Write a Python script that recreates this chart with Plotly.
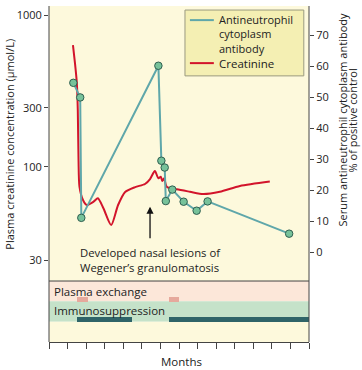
import numpy as np
import plotly.graph_objects as go

# ---------------- data ----------------
# Creatinine (µmol/L) vs months
creat_months = [1.29, 1.40, 1.50, 1.55, 1.59, 1.64, 1.83, 2.04, 2.40, 2.63, 2.93, 3.35, 3.72,
                4.10, 4.64, 5.17, 5.44, 5.70, 5.89, 6.02, 6.10, 6.20, 6.34, 6.88, 7.59, 8.31,
                9.20, 10.28, 11.89]
creat_values = [677, 534, 412, 287, 113, 77.3, 65.1, 61.0, 63.7, 66.5, 58.5, 47.1, 61.0,
                72.2, 76.9, 80.0, 85.3, 94.6, 86.1, 87.9, 83.2, 86.1, 77.3, 74.7, 72.4, 70.3,
                72.4, 78.0, 82.6]

# Antineutrophil cytoplasm antibody (% of positive control)
anca_months = [1.31, 1.68, 1.74, 5.89, 6.05, 6.23, 6.29, 6.64, 7.25, 7.95, 8.54, 12.93]
anca_values = [54.6, 49.9, 11.1, 60.1, 29.5, 27.3, 16.5, 20.2, 16.3, 13.4, 16.4, 6.0]

# Treatment periods (months)
plasma_start = [1.5, 6.45]
plasma_end = [2.1, 7.0]
immuno_start = [1.5, 6.45]
immuno_end = [4.48, 14.0]

creat_ticks = [30, 100, 300, 1000]
creat_ticktext = ["30", "100", "300", "1000"]
anca_ticks = [0, 10, 20, 30, 40, 50, 60, 70]
month_ticks = list(range(0, 15))

# ---------------- axis calibration (non-uniform printed creatinine scale) ----------------
CREAT_TICK_POS = [0, 93.3, 152.3, 245]


def creat_scale(v):
    return np.interp(np.log10(np.asarray(v, dtype=float)), np.log10(creat_ticks), CREAT_TICK_POS)


# ---------------- colours ----------------
BG = "#fdf9dc"
LEGEND_BG = "#f4efb3"
PINK_BAND = "#fce7d9"
PINK_BAR = "#e6a99c"
GREEN_BAND = "#c5e2c9"
DARK_BAR = "#2f6468"
TEAL = "#5fa7aa"
MARKER = "#77c29a"
RED = "#d2142b"
AX = "#444444"
TXT = "#222222"
FONT = "Open Sans"

fig = go.Figure()

fig.add_trace(go.Scatter(
    x=creat_months, y=creat_scale(creat_values), mode="lines",
    line=dict(color=RED, width=2, shape="spline", smoothing=0.7),
    xaxis="x", yaxis="y", showlegend=False, hoverinfo="skip"))

fig.add_trace(go.Scatter(
    x=anca_months, y=anca_values, mode="lines+markers",
    line=dict(color=TEAL, width=2),
    marker=dict(size=7.5, color=MARKER, line=dict(color="#2f5f50", width=1)),
    xaxis="x", yaxis="y2", showlegend=False, hoverinfo="skip"))

# treatment bars (lower panel, y3 units: 0-1 yellow, 1-2 green, 2-3 pink)
fig.add_trace(go.Bar(
    orientation="h", base=plasma_start,
    x=[e - s for s, e in zip(plasma_start, plasma_end)],
    y=[2.09] * len(plasma_start), width=0.22,
    marker=dict(color=PINK_BAR, line=dict(width=0)),
    xaxis="x", yaxis="y3", showlegend=False, hoverinfo="skip"))
fig.add_trace(go.Bar(
    orientation="h", base=immuno_start,
    x=[e - s for s, e in zip(immuno_start, immuno_end)],
    y=[1.115] * len(immuno_start), width=0.23,
    marker=dict(color=DARK_BAR, line=dict(width=0)),
    xaxis="x", yaxis="y3", showlegend=False, hoverinfo="skip"))

SPLIT = 0.1815  # paper fraction separating upper plot from treatment panel

shapes = [
    # background bands
    dict(type="rect", xref="paper", yref="paper", x0=0, x1=1, y0=SPLIT, y1=1,
         fillcolor=BG, line=dict(width=0), layer="below"),
    dict(type="rect", xref="paper", yref="y3", x0=0, x1=1, y0=2, y1=3,
         fillcolor=PINK_BAND, line=dict(width=0), layer="below"),
    dict(type="rect", xref="paper", yref="y3", x0=0, x1=1, y0=1, y1=2,
         fillcolor=GREEN_BAND, line=dict(width=0), layer="below"),
    dict(type="rect", xref="paper", yref="y3", x0=0, x1=1, y0=0, y1=1,
         fillcolor=BG, line=dict(width=0), layer="below"),
    # frame lines
    dict(type="line", xref="paper", yref="paper", x0=0, x1=1, y0=SPLIT, y1=SPLIT,
         line=dict(color=AX, width=1)),
    dict(type="line", xref="paper", yref="paper", x0=0, x1=0, y0=0, y1=1,
         line=dict(color=AX, width=1)),
    dict(type="line", xref="paper", yref="paper", x0=1, x1=1, y0=0, y1=1,
         line=dict(color=AX, width=1)),
    # legend box
    dict(type="rect", xref="paper", yref="paper", x0=0.523, x1=0.98, y0=0.792, y1=0.988,
         fillcolor=LEGEND_BG, line=dict(color="#9a9a80", width=1)),
    dict(type="line", xref="paper", yref="paper", x0=0.542, x1=0.634, y0=0.958, y1=0.958,
         line=dict(color=TEAL, width=2)),
    dict(type="line", xref="paper", yref="paper", x0=0.542, x1=0.634, y0=0.830, y1=0.830,
         line=dict(color=RED, width=2)),
]

def txt(text, x, y, size=11.5, xanchor="left", yanchor="middle", xref="paper", yref="paper", angle=0):
    return dict(text=text, x=x, y=y, xref=xref, yref=yref, xanchor=xanchor, yanchor=yanchor,
                align="left", showarrow=False, textangle=angle, borderpad=0,
                font=dict(family=FONT, size=size, color=TXT))

annotations = [
    txt("Antineutrophil<br>cytoplasm<br>antibody", 0.650, (342 - 34) / 336, size=11),
    txt("Creatinine", 0.650, 0.828, size=11.5),
    txt("Developed nasal lesions of<br>Wegener’s granulomatosis", 0.116, (342 - 259.5) / 336,
        size=11.3),
    txt("Plasma exchange", 0.015, 0.1497),
    txt("Immunosuppression", 0.015, 0.0923),
    txt("Months", 0.510, -0.0586, xanchor="center"),
    txt("Plasma creatinine concentration (µmol/L)", -0.155, (342 - 144) / 336,
        size=11, xanchor="center", angle=-90),
    txt("Serum antineutrophil cytoplasm antibody", 1.125, (342 - 120) / 336,
        size=11, xanchor="center", angle=-90),
    txt("% of positive control", 1.167, (342 - 120) / 336,
        size=11, xanchor="center", angle=-90),
    dict(x=5.44, y=14.7, xref="x", yref="y2", text="", showarrow=True,
         ax=0, ay=32, arrowhead=2, arrowsize=1.1, arrowwidth=1.3, arrowcolor="#111111",
         font=dict(size=1), borderpad=0),
]

fig.update_layout(
    width=362, height=370,
    margin=dict(l=48.7, r=52.7, t=6, b=28),
    paper_bgcolor="white", plot_bgcolor="rgba(0,0,0,0)",
    font=dict(family=FONT, size=11, color=TXT),
    showlegend=False, bargap=0, barmode="overlay",
    shapes=shapes, annotations=annotations,
    xaxis=dict(range=[0, 14], anchor="y3", tickvals=month_ticks, showticklabels=False,
               ticks="outside", ticklen=6, tickcolor=AX, showline=True, linecolor=AX,
               showgrid=False, zeroline=False, fixedrange=True),
    yaxis=dict(domain=[SPLIT, 1], range=[-21, 254], tickvals=list(creat_scale(creat_ticks)),
               ticktext=creat_ticktext, ticks="outside", ticklen=4, tickcolor=AX,
               showline=False, showgrid=False, zeroline=False,
               tickfont=dict(family=FONT, size=11, color=TXT)),
    yaxis2=dict(domain=[SPLIT, 1], overlaying="y", side="right", anchor="x",
                range=[-9.25, 79.35], tickvals=anca_ticks, ticks="outside", ticklen=4,
                tickcolor=AX, showline=False, showgrid=False, zeroline=False,
                tickfont=dict(family=FONT, size=11, color=TXT)),
    yaxis3=dict(domain=[0, SPLIT], range=[0, 3], showticklabels=False, ticks="",
                showline=False, showgrid=False, zeroline=False, anchor="x"),
)

fig.write_html("out.html", config={"displayModeBar": False},
               post_script="document.body.style.margin='0';document.body.style.overflow='hidden';")
